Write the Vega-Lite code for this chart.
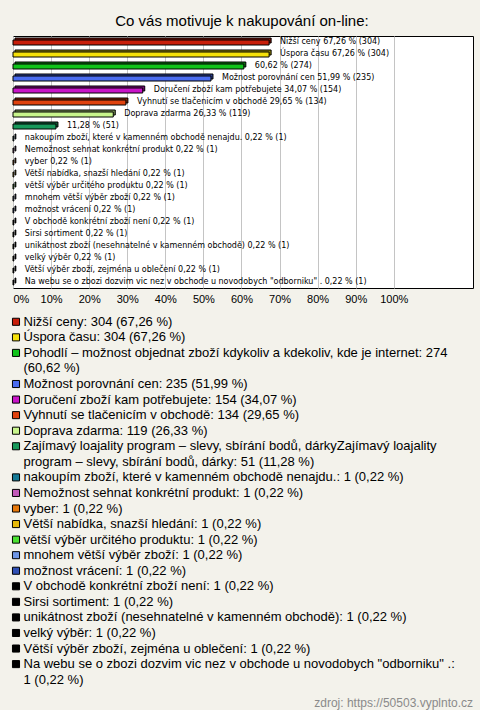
{
  "$schema": "https://vega.github.io/schema/vega-lite/v6.json",
  "background": "#f3f2eb",
  "padding": {"left": 10, "right": 10, "top": 13, "bottom": 0},
  "title": {"text": "Co vás motivuje k nakupování on-line:", "font": "Liberation Sans", "fontSize": 15, "fontWeight": "normal", "color": "#000000", "offset": 7, "anchor": "middle"},
  "spacing": 9,
  "datasets": {
    "cats": [
      {"i": 1, "cat": "Nižší ceny", "pct": 67.26, "label": "Nižší ceny 67,26 % (304)"},
      {"i": 2, "cat": "Úspora času", "pct": 67.26, "label": "Úspora času 67,26 % (304)"},
      {"i": 3, "cat": "Pohodlí", "pct": 60.62, "label": "60,62 % (274)"},
      {"i": 4, "cat": "Možnost porovnání cen", "pct": 51.99, "label": "Možnost porovnání cen 51,99 % (235)"},
      {"i": 5, "cat": "Doručení zboží kam potřebujete", "pct": 34.07, "label": "Doručení zboží kam potřebujete 34,07 % (154)"},
      {"i": 6, "cat": "Vyhnutí se tlačenicím v obchodě", "pct": 29.65, "label": "Vyhnutí se tlačenicím v obchodě 29,65 % (134)"},
      {"i": 7, "cat": "Doprava zdarma", "pct": 26.33, "label": "Doprava zdarma 26,33 % (119)"},
      {"i": 8, "cat": "Zajímavý loajality program", "pct": 11.28, "label": "11,28 % (51)"},
      {"i": 9, "cat": "nakoupím zboží", "pct": 0.22, "label": "nakoupím zboží, které v kamenném obchodě nenajdu. 0,22 % (1)"},
      {"i": 10, "cat": "Nemožnost sehnat konkrétní produkt", "pct": 0.22, "label": "Nemožnost sehnat konkrétní produkt 0,22 % (1)"},
      {"i": 11, "cat": "vyber", "pct": 0.22, "label": "vyber 0,22 % (1)"},
      {"i": 12, "cat": "Větší nabídka, snazší hledání", "pct": 0.22, "label": "Větší nabídka, snazší hledání 0,22 % (1)"},
      {"i": 13, "cat": "větší výběr určitého produktu", "pct": 0.22, "label": "větší výběr určitého produktu 0,22 % (1)"},
      {"i": 14, "cat": "mnohem větší výběr zboží", "pct": 0.22, "label": "mnohem větší výběr zboží 0,22 % (1)"},
      {"i": 15, "cat": "možnost vrácení", "pct": 0.22, "label": "možnost vrácení 0,22 % (1)"},
      {"i": 16, "cat": "V obchodě konkrétní zboží není", "pct": 0.22, "label": "V obchodě konkrétní zboží není 0,22 % (1)"},
      {"i": 17, "cat": "Sirsi sortiment", "pct": 0.22, "label": "Sirsi sortiment 0,22 % (1)"},
      {"i": 18, "cat": "unikátnost zboží", "pct": 0.22, "label": "unikátnost zboží (nesehnatelné v kamenném obchodě) 0,22 % (1)"},
      {"i": 19, "cat": "velký výběr", "pct": 0.22, "label": "velký výběr 0,22 % (1)"},
      {"i": 20, "cat": "Větší výběr zboží, zejména u oblečení", "pct": 0.22, "label": "Větší výběr zboží, zejména u oblečení 0,22 % (1)"},
      {"i": 21, "cat": "Na webu se o zbozi dozvim", "pct": 0.22, "label": "Na webu se o zbozi dozvim vic nez v obchode u novodobych \"odborniku\" . 0,22 % (1)"}
    ],
    "legend": [
      {"line": 0, "cat": "Nižší ceny", "text": "Nižší ceny: 304 (67,26 %)"},
      {"line": 1, "cat": "Úspora času", "text": "Úspora času: 304 (67,26 %)"},
      {"line": 2, "cat": "Pohodlí", "text": "Pohodlí – možnost objednat zboží kdykoliv a kdekoliv, kde je internet: 274"},
      {"line": 3, "cat": null, "text": "(60,62 %)"},
      {"line": 4, "cat": "Možnost porovnání cen", "text": "Možnost porovnání cen: 235 (51,99 %)"},
      {"line": 5, "cat": "Doručení zboží kam potřebujete", "text": "Doručení zboží kam potřebujete: 154 (34,07 %)"},
      {"line": 6, "cat": "Vyhnutí se tlačenicím v obchodě", "text": "Vyhnutí se tlačenicím v obchodě: 134 (29,65 %)"},
      {"line": 7, "cat": "Doprava zdarma", "text": "Doprava zdarma: 119 (26,33 %)"},
      {"line": 8, "cat": "Zajímavý loajality program", "text": "Zajímavý loajality program – slevy, sbírání bodů, dárkyZajímavý loajality"},
      {"line": 9, "cat": null, "text": "program – slevy, sbírání bodů, dárky: 51 (11,28 %)"},
      {"line": 10, "cat": "nakoupím zboží", "text": "nakoupím zboží, které v kamenném obchodě nenajdu.: 1 (0,22 %)"},
      {"line": 11, "cat": "Nemožnost sehnat konkrétní produkt", "text": "Nemožnost sehnat konkrétní produkt: 1 (0,22 %)"},
      {"line": 12, "cat": "vyber", "text": "vyber: 1 (0,22 %)"},
      {"line": 13, "cat": "Větší nabídka, snazší hledání", "text": "Větší nabídka, snazší hledání: 1 (0,22 %)"},
      {"line": 14, "cat": "větší výběr určitého produktu", "text": "větší výběr určitého produktu: 1 (0,22 %)"},
      {"line": 15, "cat": "mnohem větší výběr zboží", "text": "mnohem větší výběr zboží: 1 (0,22 %)"},
      {"line": 16, "cat": "možnost vrácení", "text": "možnost vrácení: 1 (0,22 %)"},
      {"line": 17, "cat": "V obchodě konkrétní zboží není", "text": "V obchodě konkrétní zboží není: 1 (0,22 %)"},
      {"line": 18, "cat": "Sirsi sortiment", "text": "Sirsi sortiment: 1 (0,22 %)"},
      {"line": 19, "cat": "unikátnost zboží", "text": "unikátnost zboží (nesehnatelné v kamenném obchodě): 1 (0,22 %)"},
      {"line": 20, "cat": "velký výběr", "text": "velký výběr: 1 (0,22 %)"},
      {"line": 21, "cat": "Větší výběr zboží, zejména u oblečení", "text": "Větší výběr zboží, zejména u oblečení: 1 (0,22 %)"},
      {"line": 22, "cat": "Na webu se o zbozi dozvim", "text": "Na webu se o zbozi dozvim vic nez v obchode u novodobych \"odborniku\" .:"},
      {"line": 23, "cat": null, "text": "1 (0,22 %)"}
    ]
  },
  "vconcat": [
    {
      "width": 460,
      "height": 252,
      "data": {"name": "cats"},
      "view": {"stroke": "#000000", "strokeWidth": 1, "fill": "#ffffff"},
      "encoding": {
        "y": {"field": "i", "type": "ordinal", "axis": null, "scale": {"paddingInner": 0, "paddingOuter": 0}}
      },
      "layer": [
        {
          "mark": {"type": "bar", "size": 5, "xOffset": 2, "x2Offset": 2, "yOffset": -1.5, "stroke": "#000000", "strokeWidth": 1},
          "encoding": {
            "x": {"field": "pct", "type": "quantitative", "scale": {"domain": [0, 120.8], "nice": false},
              "axis": {"values": [0, 10, 20, 30, 40, 50, 60, 70, 80, 90, 100], "labelExpr": "datum.value + '%'", "grid": true, "gridColor": "#c4c4c4", "gridWidth": 1, "domain": false, "ticks": false, "labelFont": "Liberation Sans", "labelFontSize": 11, "labelColor": "#000000", "labelPadding": 5, "labelFlush": false, "labelOverlap": false, "labelAlign": {"condition": {"test": "datum.value == 0", "value": "left"}, "value": "center"}, "title": null}},
            "color": {"field": "cat", "type": "nominal", "legend": null,
              "scale": {"domain": ["Nižší ceny", "Úspora času", "Pohodlí", "Možnost porovnání cen", "Doručení zboží kam potřebujete", "Vyhnutí se tlačenicím v obchodě", "Doprava zdarma", "Zajímavý loajality program", "nakoupím zboží", "Nemožnost sehnat konkrétní produkt", "vyber", "Větší nabídka, snazší hledání", "větší výběr určitého produktu", "mnohem větší výběr zboží", "možnost vrácení", "V obchodě konkrétní zboží není", "Sirsi sortiment", "unikátnost zboží", "velký výběr", "Větší výběr zboží, zejména u oblečení", "Na webu se o zbozi dozvim"],
                "range": ["#c81e0a", "#f5e10a", "#10c31a", "#4a6cf0", "#c815c8", "#e0420e", "#c8f58c", "#17995a", "#157a96", "#c25ab9", "#e6780a", "#e6b90a", "#4be132", "#6e96e6", "#3050b4", "#000000", "#000000", "#000000", "#000000", "#000000", "#000000"]}}
          }
        },
        {
          "mark": {"type": "bar", "size": 5, "xOffset": 2, "x2Offset": 2, "yOffset": -1.5, "fill": "#000000", "opacity": 0.4},
          "encoding": {"x": {"field": "pct", "type": "quantitative"}}
        },
        {
          "mark": {"type": "bar", "size": 5, "yOffset": 0.5, "stroke": "#000000", "strokeWidth": 1},
          "encoding": {
            "x": {"field": "pct", "type": "quantitative"},
            "color": {"field": "cat", "type": "nominal", "legend": null}
          }
        },
        {
          "mark": {"type": "text", "align": "left", "baseline": "middle", "dx": 11, "font": "DejaVu Sans", "fontSize": 8, "color": "#000000"},
          "encoding": {
            "x": {"field": "pct", "type": "quantitative"},
            "text": {"field": "label"}
          }
        }
      ]
    },
    {
      "width": 460,
      "height": 389,
      "data": {"name": "legend"},
      "view": {"stroke": null},
      "encoding": {
        "y": {"field": "line", "type": "ordinal", "axis": null, "scale": {"paddingInner": 0, "paddingOuter": 0}}
      },
      "layer": [
        {
          "transform": [{"filter": "isValid(datum.cat)"}],
          "mark": {"type": "point", "shape": "square", "filled": true, "size": 50, "stroke": "#000000", "strokeWidth": 1, "opacity": 1, "xOffset": 3},
          "encoding": {
            "x": {"datum": 0, "type": "quantitative", "scale": {"domain": [0, 1], "nice": false}, "axis": null},
            "color": {"field": "cat", "type": "nominal", "legend": null}
          }
        },
        {
          "mark": {"type": "text", "align": "left", "baseline": "middle", "dx": 10.5, "font": "Liberation Sans", "fontSize": 13, "color": "#000000"},
          "encoding": {
            "x": {"datum": 0, "type": "quantitative"},
            "text": {"field": "text"}
          }
        },
        {
          "data": {"values": [{"line": 24, "text": "zdroj: https://50503.vyplnto.cz"}]},
          "mark": {"type": "text", "align": "right", "baseline": "middle", "dy": 8, "font": "Liberation Sans", "fontSize": 12, "color": "#8a8a8a"},
          "encoding": {
            "x": {"datum": 1, "type": "quantitative"},
            "text": {"field": "text"}
          }
        }
      ]
    }
  ],
  "config": {"view": {"stroke": null}, "font": "Liberation Sans"}
}
